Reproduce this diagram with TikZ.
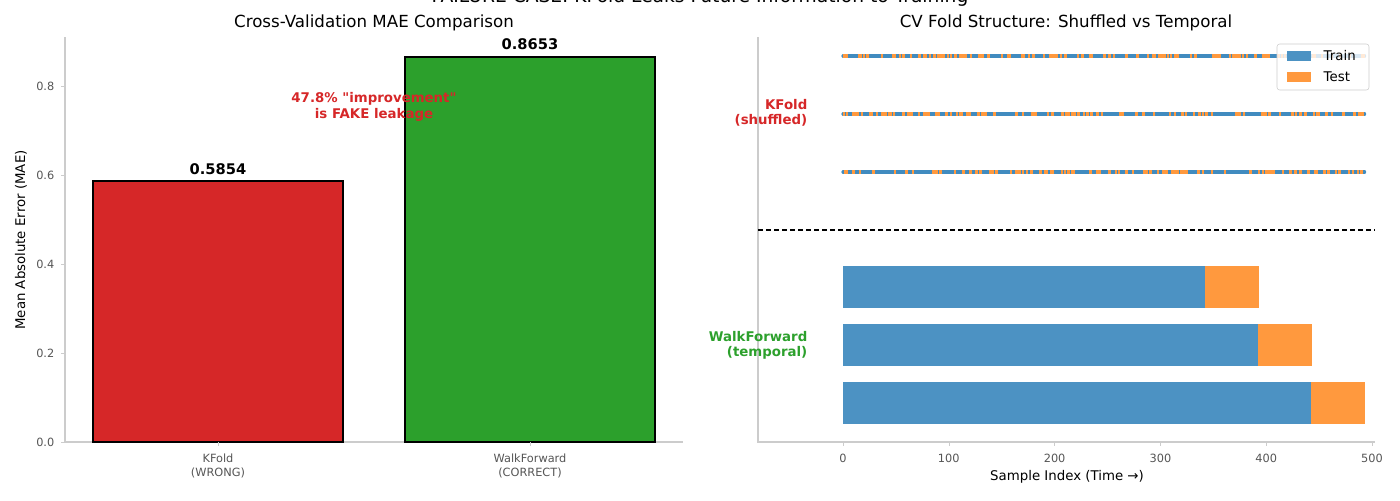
\documentclass[tikz,border=0pt]{standalone}
\usepackage{fontspec}
\setmainfont{DejaVu Sans}
\newfontfamily\djv{DejaVu Sans}
\definecolor{cred}{HTML}{D62728}
\definecolor{cgreen}{HTML}{2CA02C}
\definecolor{cblue}{HTML}{4C92C3}
\definecolor{cblued}{HTML}{1F77B4}
\definecolor{corange}{HTML}{FF993E}
\definecolor{spine}{HTML}{CCCCCC}
\definecolor{ticktxt}{HTML}{555555}
\begin{document}
\begin{tikzpicture}[x=0.75pt,y=-0.75pt,
  spinel/.style={draw=spine,line width=0.8pt},
  tick/.style={font=\fontsize{8.5}{10}\selectfont,text=ticktxt},
  ttl/.style={font=\fontsize{12.5}{14}\selectfont},
  barbox/.style={draw=black,line width=1.2pt},
  rowlab/.style={font=\bfseries\fontsize{10}{11.5}\selectfont,align=right,anchor=east}]
\useasboundingbox (0,0) rectangle (1400,500);
\node[font=\fontsize{14}{16}\selectfont] (sup) at (700,-3) {FAILURE CASE: KFold Leaks Future Information to Training};
% left axes
\node[ttl] (t1) at (374,23) {Cross-Validation MAE Comparison};
\draw[spinel] (65,37) -- (65,442) -- (683,442);
\foreach \v/\y in {0.0/442,0.2/353,0.4/264,0.6/175,0.8/86}{
  \draw[spine] (61,\y) -- (65,\y);
  \node[tick,anchor=east] at (59,\y) {\v};}
\node[rotate=90,font=\fontsize{10}{11}\selectfont] (yl) at (21,240) {Mean Absolute Error (MAE)};
\filldraw[barbox,fill=cred] (93,442) rectangle (343,181);
\filldraw[barbox,fill=cgreen] (405,442) rectangle (655,57);
\node[font=\bfseries\fontsize{11}{13}\selectfont] (v1) at (218,169) {0.5854};
\node[font=\bfseries\fontsize{11}{13}\selectfont] (v2) at (530,44) {0.8653};
\node[text=cred,font=\djv\bfseries\fontsize{10}{11.5}\selectfont,align=center] (ann) at (374,107) {47.8\% "improvement"\\is FAKE leakage};
\draw[spine] (218,442) -- (218,446); \draw[spine] (530,442) -- (530,446);
\node[tick,align=center] (x1) at (218,466) {KFold\\(WRONG)};
\node[tick,align=center] (x2) at (530,466) {WalkForward\\(CORRECT)};
% right axes
\node[ttl] (t2) at (1066,23) {CV Fold Structure: Shuffled vs Temporal};
\draw[spinel] (758,37) -- (758,442) -- (1375,442);
\foreach \v in {0,100,...,500}{
  \draw[spine] ({843+1.058*\v},442) -- ({843+1.058*\v},446);
  \node[tick] at ({843+1.058*\v},458) {\v};}
\node[font=\fontsize{10}{11}\selectfont] (xl) at (1067,477) {Sample Index (Time →)};
\pgfmathsetseed{7}
\foreach \yy in {56,114,172}{
  \draw[cblued!85,line width=2.4pt,line cap=round] (843,\yy) -- ({843+1.058*493},\yy);
  \foreach \i in {0,...,492}{
    \pgfmathparse{rnd<0.2?1:0}
    \ifnum\pgfmathresult=1
      \fill[corange] ({843+1.058*\i-1.2},\yy-1.8) rectangle ({843+1.058*\i+1.2},\yy+1.8);
    \fi}}
\draw[dashed,line width=0.9pt,dash pattern=on 4pt off 2pt] (758,230) -- (1375,230);
\foreach \yc/\tr/\te in {287/342/393,345/392/443,403/442/493}{
  \fill[cblue] (843,\yc-21) rectangle ({843+1.058*\tr},\yc+21);
  \fill[corange] ({843+1.058*\tr},\yc-21) rectangle ({843+1.058*\te},\yc+21);}
\node[rowlab,text=cred] (r1) at (812,113) {KFold\\(shuffled)};
\node[rowlab,text=cgreen] (r2) at (812,345) {WalkForward\\(temporal)};
% legend
\filldraw[draw=spine,fill=white,fill opacity=0.8,rounded corners=2pt] (1277,44) rectangle (1369,90);
\fill[cblue] (1287,51) rectangle (1311,61);
\fill[corange] (1287,72) rectangle (1311,82);
\node[anchor=west,font=\fontsize{10}{11}\selectfont] (lg1) at (1319,56) {Train};
\node[anchor=west,font=\fontsize{10}{11}\selectfont] (lg2) at (1319,77) {Test};
\end{tikzpicture}
\end{document}
